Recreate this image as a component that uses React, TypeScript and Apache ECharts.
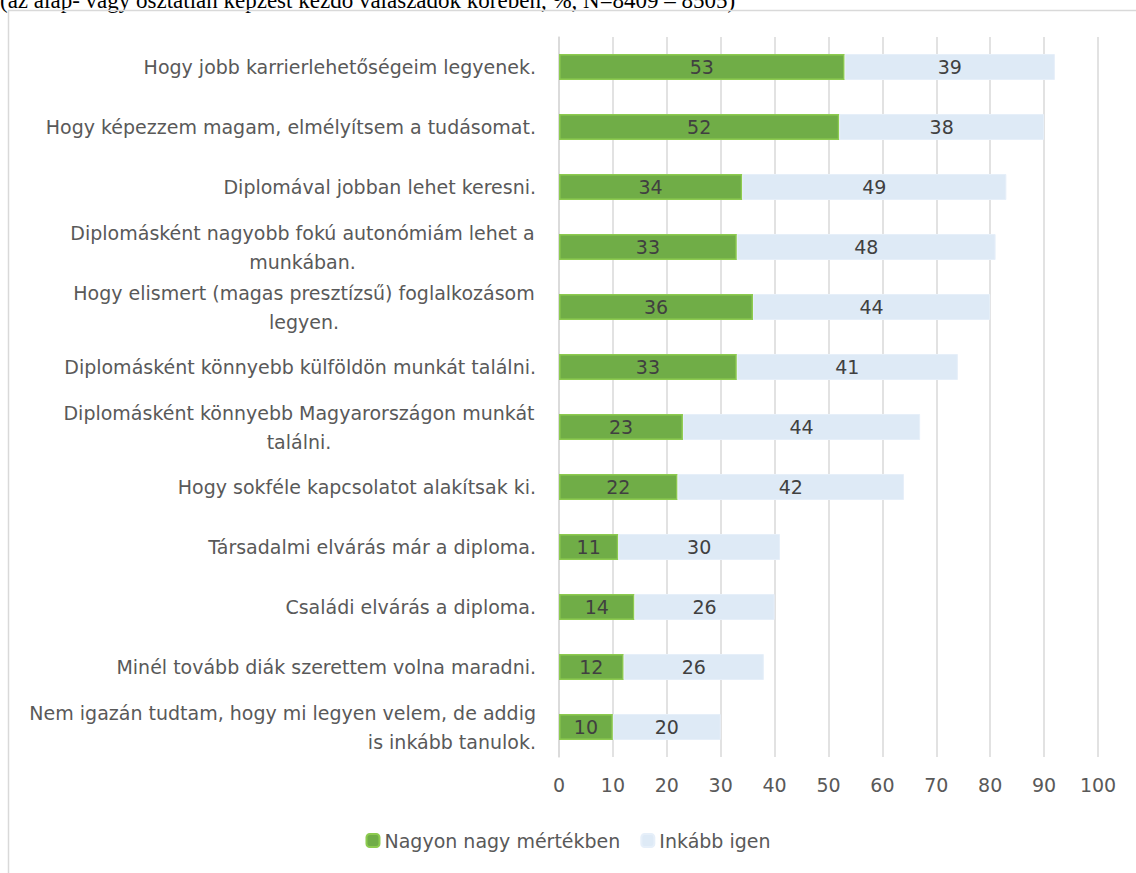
import React, { useEffect, useRef } from "react";
import * as echarts from "echarts";

const categories = [
  "Hogy jobb karrierlehetőségeim legyenek.",
  "Hogy képezzem magam, elmélyítsem a tudásomat.",
  "Diplomával jobban lehet keresni.",
  "Diplomásként nagyobb fokú autonómiám lehet a\nmunkában.",
  "Hogy elismert (magas presztízsű) foglalkozásom\nlegyen.",
  "Diplomásként könnyebb külföldön munkát találni.",
  "Diplomásként könnyebb Magyarországon munkát\ntalálni.",
  "Hogy sokféle kapcsolatot alakítsak ki.",
  "Társadalmi elvárás már a diploma.",
  "Családi elvárás a diploma.",
  "Minél tovább diák szerettem volna maradni.",
  "Nem igazán tudtam, hogy mi legyen velem, de addig\nis inkább tanulok.",
];
const seriesNames = ["Nagyon nagy mértékben", "Inkább igen"];
const veryMuch = [53, 52, 34, 33, 36, 33, 23, 22, 11, 14, 12, 10];
const ratherYes = [39, 38, 49, 48, 44, 41, 44, 42, 30, 26, 26, 20];
const xTicks = { min: 0, max: 100, interval: 10 };
const subtitle = "(az alap- vagy osztatlan képzést kezdő válaszadók körében, %, N=8409 – 8505)";

const FONT = "'DejaVu Sans', sans-serif";
const FS = 19;

let measureCtx: CanvasRenderingContext2D | null = null;
function measure(t: string): number {
  if (!measureCtx) {
    measureCtx = document.createElement("canvas").getContext("2d");
  }
  if (!measureCtx) return t.length * FS * 0.6;
  measureCtx.font = `${FS}px 'DejaVu Sans'`;
  return measureCtx.measureText(t).width;
}

function formatLabel(v: string): string {
  const lines = v.split("\n");
  if (lines.length < 2 || v.startsWith("Nem igazán")) return v;
  const w = Math.ceil(Math.max(...lines.map(measure))) + 2;
  return lines.map((l) => `{c${w}|${l}}`).join("\n");
}

function buildRich() {
  const rich: Record<string, any> = {};
  categories.forEach((c) => {
    const lines = c.split("\n");
    if (lines.length < 2) return;
    const w = Math.ceil(Math.max(...lines.map(measure))) + 2;
    rich["c" + w] = {
      width: w,
      align: "center",
      color: "#595959",
      fontSize: FS,
      fontFamily: FONT,
      lineHeight: 29,
    };
  });
  return rich;
}

export default function App() {
  const ref = useRef<HTMLDivElement>(null);
  useEffect(() => {
    document.body.style.margin = "0";
    const chart = echarts.init(ref.current!, null, { renderer: "svg" });
    chart.setOption({
      animation: false,
      backgroundColor: "#ffffff",
      textStyle: { fontFamily: FONT },
      graphic: [
        {
          type: "text",
          left: 0,
          top: -11,
          style: {
            text: subtitle,
            font: "23px 'Liberation Serif', serif",
            fill: "#000",
          },
        },
        {
          type: "polyline",
          shape: { points: [[8.5, 873], [8.5, 10.5], [1136, 10.5]] },
          style: { stroke: "#D9D9D9", lineWidth: 1.5, fill: "none" },
        },
      ],
      legend: {
        top: 826,
        left: "center",
        itemWidth: 13,
        itemHeight: 13,
        itemGap: 20,
        textStyle: { color: "#595959", fontSize: FS, fontFamily: FONT },
        data: seriesNames,
      },
      grid: { left: 559, right: 38, top: 37, bottom: 116, containLabel: false },
      xAxis: {
        type: "value",
        min: xTicks.min,
        max: xTicks.max,
        interval: xTicks.interval,
        axisLine: { show: false },
        axisTick: { show: false },
        axisLabel: { color: "#595959", fontSize: FS, margin: 18, fontFamily: FONT },
        splitLine: { lineStyle: { color: "#D9D9D9", width: 1.5 } },
      },
      yAxis: {
        type: "category",
        inverse: true,
        data: categories,
        axisLine: { show: true, lineStyle: { color: "#D9D9D9", width: 1.5 } },
        axisTick: { show: false },
        axisLabel: {
          color: "#595959",
          fontSize: FS,
          margin: 23,
          lineHeight: 29,
          fontFamily: FONT,
          formatter: formatLabel,
          rich: buildRich(),
        },
      },
      series: [
        {
          name: seriesNames[0],
          type: "bar",
          stack: "a",
          barWidth: 26,
          data: veryMuch,
          itemStyle: { color: "#70AD47", borderColor: "#8DCB50", borderWidth: 1.5 },
          label: { show: true, position: "inside", color: "#404040", fontSize: FS, fontFamily: FONT },
        },
        {
          name: seriesNames[1],
          type: "bar",
          stack: "a",
          barWidth: 26,
          data: ratherYes,
          itemStyle: { color: "#DEEAF6", borderColor: "#E6EFF9", borderWidth: 1 },
          label: { show: true, position: "inside", color: "#404040", fontSize: FS, fontFamily: FONT },
        },
      ],
    });
    return () => chart.dispose();
  }, []);
  return <div ref={ref} style={{ width: 1136, height: 873 }} />;
}
